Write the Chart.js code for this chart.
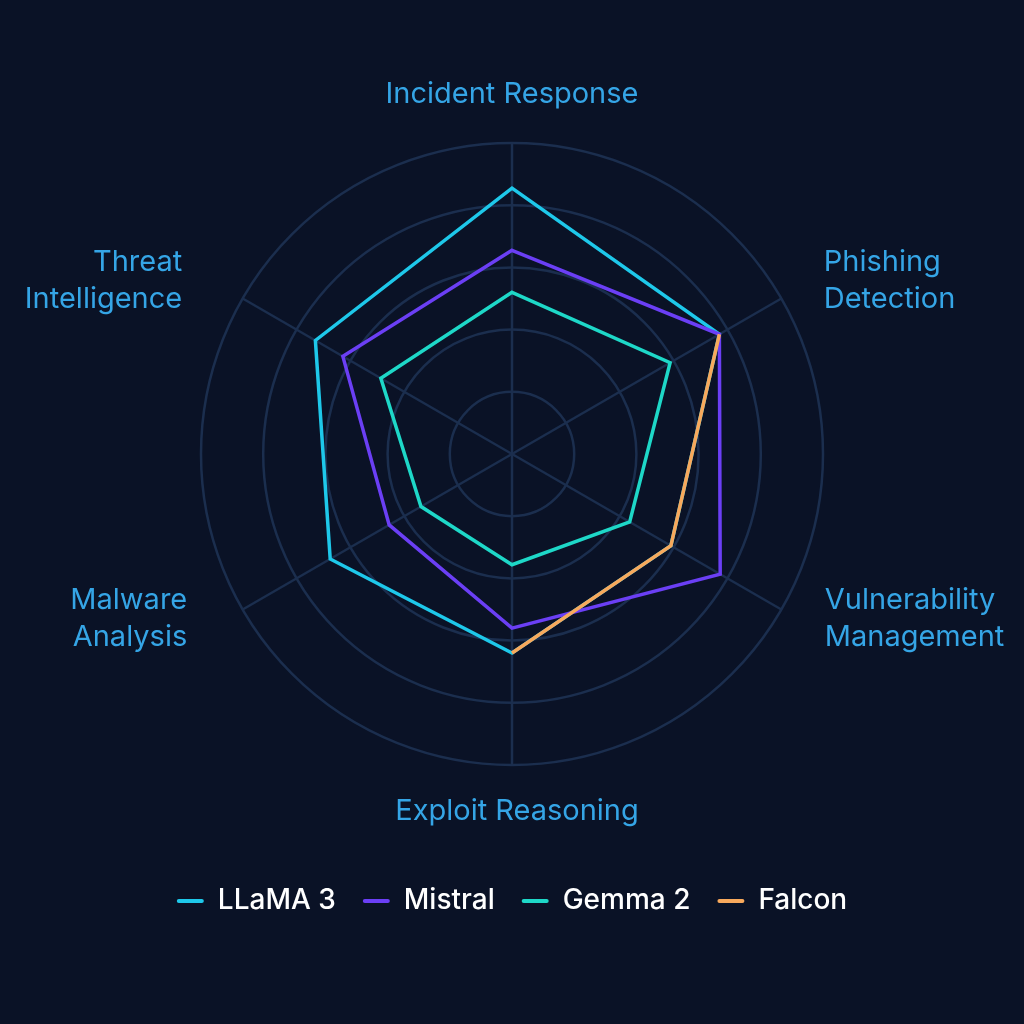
<!DOCTYPE html>
<html>
<head>
<meta charset="utf-8">
<script src="https://cdn.jsdelivr.net/npm/chart.js@4.4.1/dist/chart.umd.min.js"></script>
<style>
  html, body { margin: 0; padding: 0; background: #0a1226; }
  #wrap { width: 1024px; height: 1024px; }
</style>
</head>
<body>
<div id="wrap"><canvas id="c" width="1024" height="1024"></canvas></div>
<script>
// ---- data ----
const categories = [
  ["Incident Response"],
  ["Phishing", "Detection"],
  ["Vulnerability", "Management"],
  ["Exploit Reasoning"],
  ["Malware", "Analysis"],
  ["Threat", "Intelligence"]
];
const seriesNames = ["LLaMA 3", "Mistral", "Gemma 2", "Falcon"];
const llama3 = [85.5, 77, 59, 64, 67.5, 73];
const mistral = [65.5, 77, 77.3, 56, 45.6, 62.8];
const gemma2 = [52, 58.7, 43.7, 35.6, 33.8, 48.7];
const falcon = [null, 77, 59, 64, null, null];
const scaleMin = 0;
const scaleMax = 100;
const scaleStep = 20;

// ---- styles ----
const colors = ["#1ec8ea", "#6b3ff5", "#1ed8c8", "#f8a95c"];
const drawOrder = [3, 1, 2, 0];
const labelColor = "#35a5e6";
const gridColor = "#1b2e4e";

const seriesValues = [llama3, mistral, gemma2, falcon];

const pointLabelPlugin = {
  id: 'pointLabelText',
  afterDraw(chart) {
    const r = chart.scales.r;
    const ctx = chart.ctx;
    const dx = [0, 0, 1, 5, -13, -18];
    const dy = [0, 7, -15, -3, -15, 7];
    const lineH = 37.5;
    ctx.save();
    ctx.font = '400 29px Inter, "Noto Sans", sans-serif';
    ctx.fillStyle = labelColor;
    ctx.textBaseline = 'middle';
    categories.forEach((lines, i) => {
      const p = r.getPointPosition(i, r.drawingArea + 49);
      const ang = (360 / categories.length) * i;
      let align = 'center';
      if (ang > 0 && ang < 180) align = 'left';
      else if (ang > 180) align = 'right';
      ctx.textAlign = align;
      const cx = p.x + dx[i];
      const cy = p.y + dy[i];
      const startY = cy - (lines.length - 1) * lineH / 2;
      lines.forEach((t, k) => ctx.fillText(t, cx, startY + k * lineH));
    });
    ctx.restore();
  }
};

const chart = new Chart(document.getElementById('c'), {
  type: 'radar',
  data: {
    labels: categories.map(l => l.join(' ')),
    datasets: seriesNames.map((name, i) => ({
      label: name,
      data: seriesValues[i],
      borderColor: colors[i],
      backgroundColor: colors[i],
      borderWidth: 3.5,
      fill: false,
      pointRadius: 0,
      pointHoverRadius: 0,
      spanGaps: false,
      borderJoinStyle: 'miter',
      order: drawOrder[i]
    }))
  },
  options: {
    responsive: false,
    animation: false,
    layout: { padding: { top: 20, bottom: 99, left: 0, right: 0 } },
    scales: {
      r: {
        min: scaleMin,
        max: scaleMax,
        ticks: { display: false, stepSize: scaleStep },
        pointLabels: { display: false },
        grid: { circular: true, color: gridColor, lineWidth: 2.5 },
        angleLines: { display: true, color: gridColor, lineWidth: 2.5 },
        afterFit(scale) {
          scale.xCenter = 512;
          scale.yCenter = 454;
          scale.drawingArea = 311;
        }
      }
    },
    plugins: {
      tooltip: { enabled: false },
      legend: {
        position: 'bottom',
        labels: {
          color: '#ffffff',
          font: { family: 'Inter', size: 28, weight: '500' },
          boxWidth: 27,
          boxHeight: 4,
          padding: 27,
          useBorderRadius: true,
          borderRadius: 2,
          sort: (a, b) => a.datasetIndex - b.datasetIndex,
          generateLabels: (ch) => Chart.defaults.plugins.legend.labels.generateLabels(ch)
            .map(l => Object.assign(l, { lineWidth: 0 }))
        }
      }
    }
  },
  plugins: [pointLabelPlugin]
});
</script>
</body>
</html>
